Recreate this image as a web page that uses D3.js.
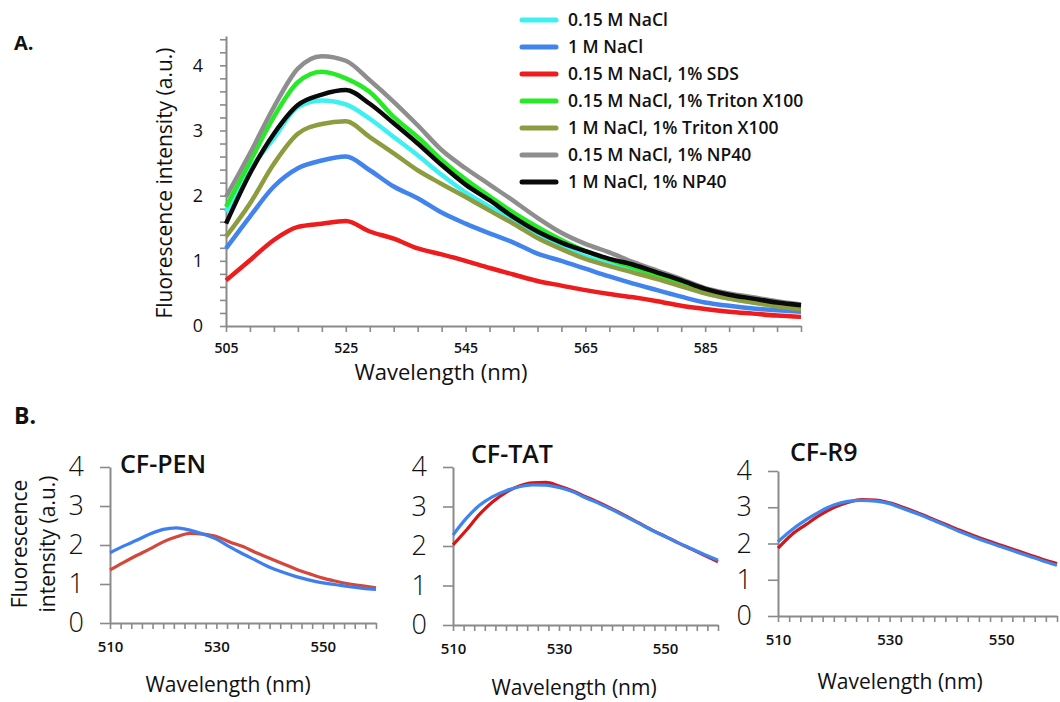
<!DOCTYPE html>
<html>
<head>
<meta charset="utf-8">
<script src="https://cdn.jsdelivr.net/npm/d3@7"></script>
<style>
  body { margin: 0; background: #fff; }
  text { font-family: "Open Sans", Lato, sans-serif; fill: #111; }
</style>
</head>
<body>
<svg id="chart" width="1060" height="702"></svg>
<script>
// ---- panel A data (wavelength in nm, fluorescence in a.u.)
const nmA = [505, 509, 513, 517, 521, 525, 529, 533, 537, 541, 545, 549, 553,
             557, 561, 565, 569, 573, 577, 581, 585, 589, 593, 597, 601];

const nacl015   = [1.75, 2.40, 2.88, 3.36, 3.46, 3.40, 3.18, 2.90, 2.62, 2.32, 2.05, 1.83, 1.63,
                   1.40, 1.22, 1.07, 0.95, 0.84, 0.73, 0.62, 0.50, 0.42, 0.36, 0.31, 0.28];
const nacl1     = [1.19, 1.68, 2.14, 2.42, 2.54, 2.60, 2.39, 2.14, 1.96, 1.74, 1.57, 1.42, 1.28,
                   1.11, 1.00, 0.88, 0.76, 0.65, 0.55, 0.45, 0.36, 0.31, 0.27, 0.24, 0.22];
const sds       = [0.70, 1.01, 1.32, 1.52, 1.57, 1.61, 1.45, 1.34, 1.19, 1.10, 1.00, 0.89, 0.79,
                   0.69, 0.62, 0.55, 0.49, 0.44, 0.38, 0.31, 0.26, 0.22, 0.19, 0.16, 0.14];
const triton015 = [1.83, 2.52, 3.21, 3.74, 3.90, 3.80, 3.59, 3.21, 2.90, 2.55, 2.25, 1.99, 1.74,
                   1.52, 1.32, 1.15, 1.02, 0.90, 0.78, 0.66, 0.53, 0.44, 0.37, 0.32, 0.29];
const triton1   = [1.37, 1.88, 2.49, 2.95, 3.10, 3.14, 2.90, 2.65, 2.39, 2.18, 1.98, 1.77, 1.57,
                   1.35, 1.18, 1.03, 0.92, 0.82, 0.72, 0.61, 0.50, 0.42, 0.36, 0.30, 0.26];
const np40015   = [1.98, 2.65, 3.36, 3.95, 4.14, 4.07, 3.77, 3.44, 3.08, 2.70, 2.42, 2.17, 1.92,
                   1.66, 1.43, 1.26, 1.13, 0.98, 0.85, 0.72, 0.58, 0.50, 0.44, 0.38, 0.33];
const np401     = [1.57, 2.34, 2.95, 3.39, 3.55, 3.62, 3.41, 3.11, 2.80, 2.47, 2.17, 1.93, 1.67,
                   1.45, 1.28, 1.15, 1.03, 0.94, 0.82, 0.70, 0.57, 0.48, 0.42, 0.36, 0.32];

const seriesNamesA = ["0.15 M NaCl", "1 M NaCl", "0.15 M NaCl, 1% SDS", "0.15 M NaCl, 1% Triton X100",
                      "1 M NaCl, 1% Triton X100", "0.15 M NaCl, 1% NP40", "1 M NaCl, 1% NP40"];
const seriesA = [nacl015, nacl1, sds, triton015, triton1, np40015, np401];
const colorsA = ["#3ff0f2", "#4184ee", "#ee1c1c", "#27ea27", "#8c9c3e", "#8e8e8e", "#0a0a0a"];

// ---- panel B data (red = first condition, blue = second)
const nmB = [510, 512.5, 515, 517.5, 520, 522.5, 525, 527.5, 530, 532.5, 535,
             537.5, 540, 542.5, 545, 547.5, 550, 552.5, 555, 557.5, 560];

const penRed  = [1.36, 1.55, 1.73, 1.90, 2.08, 2.21, 2.30, 2.28, 2.22, 2.08, 1.96,
                 1.80, 1.66, 1.52, 1.38, 1.26, 1.15, 1.07, 1.00, 0.95, 0.90];
const penBlue = [1.80, 1.97, 2.12, 2.28, 2.40, 2.44, 2.38, 2.28, 2.15, 1.95, 1.77,
                 1.60, 1.43, 1.30, 1.19, 1.10, 1.03, 0.98, 0.93, 0.89, 0.86];
const tatRed  = [2.03, 2.40, 2.80, 3.12, 3.36, 3.52, 3.60, 3.61, 3.52, 3.40, 3.25,
                 3.10, 2.94, 2.77, 2.59, 2.41, 2.25, 2.08, 1.92, 1.76, 1.60];
const tatBlue = [2.28, 2.70, 3.03, 3.25, 3.40, 3.50, 3.55, 3.54, 3.48, 3.38, 3.22,
                 3.08, 2.92, 2.75, 2.58, 2.40, 2.24, 2.08, 1.93, 1.78, 1.64];
const r9Red   = [1.87, 2.25, 2.52, 2.78, 2.99, 3.13, 3.21, 3.20, 3.12, 2.99, 2.85,
                 2.69, 2.53, 2.37, 2.22, 2.08, 1.95, 1.82, 1.69, 1.56, 1.45];
const r9Blue  = [2.05, 2.38, 2.65, 2.88, 3.06, 3.16, 3.19, 3.17, 3.10, 2.96, 2.82,
                 2.66, 2.50, 2.33, 2.18, 2.04, 1.91, 1.78, 1.65, 1.52, 1.40];

const panelNamesB = ["CF-PEN", "CF-TAT", "CF-R9"];

const svg = d3.select("#chart");
const axisGrey = "#8a8a8a";

// style lines and paths of an axis together
const styleAxis = (g) => {
    g.select(".domain").attr("stroke", axisGrey).attr("stroke-width", 2);
    g.selectAll(".tick line").attr("stroke", axisGrey).attr("stroke-width", 1.6);
    g.selectAll("text").style("font-family", "\"Open Sans\", sans-serif").attr("fill", "#111");
};

// ================= Panel A =================
const xA = d3.scaleLinear().domain([505, 601]).range([226, 801]);
const yA = d3.scaleLinear().domain([0, 4.45]).range([326, 36]);

svg.append("text").attr("x", 14).attr("y", 50)
    .style("font-size", "20px").style("font-weight", "bold").text("A.");

const xAxisA = d3.axisBottom(xA)
    .tickValues(d3.range(505, 602, 4))
    .tickFormat(d => (d - 505) % 20 === 0 ? d : "")
    .tickSize(6).tickSizeOuter(0).tickPadding(11);
const gxA = svg.append("g").attr("transform", "translate(0,326)").call(xAxisA);
styleAxis(gxA);
gxA.selectAll("text").style("font-size", "14px").style("font-weight", "600");

const yAxisA = d3.axisLeft(yA)
    .tickValues(d3.range(0, 4.41, 0.2))
    .tickFormat(d => Math.abs(d - Math.round(d)) < 1e-6 ? Math.round(d) : "")
    .tickSize(6).tickSizeOuter(0).tickPadding(17);
const gyA = svg.append("g").attr("transform", "translate(226,0)").call(yAxisA);
styleAxis(gyA);
gyA.selectAll("text").style("font-size", "18px");

svg.append("text")
    .attr("transform", "translate(172,183) rotate(-90)")
    .attr("text-anchor", "middle")
    .style("font-size", "21px")
    .text("Fluorescence intensity (a.u.)");

svg.append("text")
    .attr("x", 441).attr("y", 380)
    .attr("text-anchor", "middle")
    .style("font-size", "22px")
    .text("Wavelength (nm)");

const lineA = d3.line()
    .x((d, i) => xA(nmA[i]))
    .y(d => yA(d))
    .curve(d3.curveMonotoneX);

svg.append("g").selectAll("path")
    .data(seriesA)
    .join("path")
    .attr("d", lineA)
    .attr("fill", "none")
    .attr("stroke", (d, i) => colorsA[i])
    .attr("stroke-width", 4.5)
    .attr("stroke-linejoin", "round");

const legend = svg.append("g").selectAll("g")
    .data(seriesNamesA)
    .join("g")
    .attr("transform", (d, i) => "translate(522," + (20 + i * 27) + ")");
legend.append("line")
    .attr("x1", 0).attr("x2", 34)
    .attr("stroke", (d, i) => colorsA[i])
    .attr("stroke-width", 5)
    .attr("stroke-linecap", "round");
legend.append("text")
    .attr("x", 46).attr("dy", "0.36em")
    .style("font-size", "17.5px").style("font-weight", "600")
    .text(d => d);

// ================= Panel B =================
svg.append("text").attr("x", 14).attr("y", 424)
    .style("font-size", "23px").style("font-weight", "bold").text("B.");

// y axis title of the first small chart, two lines
const yTitleB = svg.append("text")
    .attr("transform", "translate(0,544) rotate(-90)")
    .attr("text-anchor", "middle")
    .style("font-size", "21px");
yTitleB.append("tspan").attr("x", 0).attr("y", 27).text("Fluorescence");
yTitleB.append("tspan").attr("x", 0).attr("y", 55).text("intensity (a.u.)");

const layoutB = [
    { left: 110, right: 376, top: 467, bottom: 623, tx: 120, ty: 473, lx: 228, ly: 692 },
    { left: 453, right: 718, top: 467, bottom: 625, tx: 471, ty: 463, lx: 574, ly: 695 },
    { left: 778, right: 1057, top: 471, bottom: 616, tx: 790, ty: 461, lx: 900, ly: 689 }
];
const dataB = [[penRed, penBlue], [tatRed, tatBlue], [r9Red, r9Blue]];
const colorsB = [["#d2483a", "#3d7ff0"], ["#d81414", "#3d85f0"], ["#d01818", "#3d85f0"]];

const drawSmall = (name, lay, pair, cols) => {
    const x = d3.scaleLinear().domain([510, 560]).range([lay.left, lay.right]);
    const y = d3.scaleLinear().domain([0, 4]).range([lay.bottom, lay.top]);
    const g = svg.append("g");

    const gx = g.append("g").attr("transform", "translate(0," + lay.bottom + ")")
        .call(d3.axisBottom(x)
            .tickValues(d3.range(510, 561, 2))
            .tickFormat(d => (d - 510) % 20 === 0 ? d : "")
            .tickSize(6).tickSizeOuter(0).tickPadding(12));
    styleAxis(gx);
    gx.selectAll("text").style("font-size", "15px").style("font-weight", "600");

    const gy = g.append("g").attr("transform", "translate(" + lay.left + ",0)")
        .call(d3.axisLeft(y).tickValues([0, 1, 2, 3, 4]).tickFormat(d3.format("d"))
            .tickSize(10).tickSizeOuter(0).tickPadding(16));
    styleAxis(gy);
    gy.selectAll("text").style("font-size", "27px").style("font-weight", "300").attr("fill", "#222");

    const line = d3.line().x((d, i) => x(nmB[i])).y(d => y(d)).curve(d3.curveMonotoneX);
    g.selectAll("path.curve")
        .data(pair)
        .join("path")
        .attr("class", "curve")
        .attr("d", line)
        .attr("fill", "none")
        .attr("stroke", (d, i) => cols[i])
        .attr("stroke-width", 3.2)
        .attr("stroke-linejoin", "round");

    g.append("text").attr("x", lay.tx).attr("y", lay.ty)
        .style("font-size", "25px").style("font-weight", "600")
        .text(name);

    g.append("text").attr("x", lay.lx).attr("y", lay.ly)
        .attr("text-anchor", "middle")
        .style("font-size", "21px")
        .text("Wavelength (nm)");
};

panelNamesB.forEach((name, i) => drawSmall(name, layoutB[i], dataB[i], colorsB[i]));
</script>
</body>
</html>
